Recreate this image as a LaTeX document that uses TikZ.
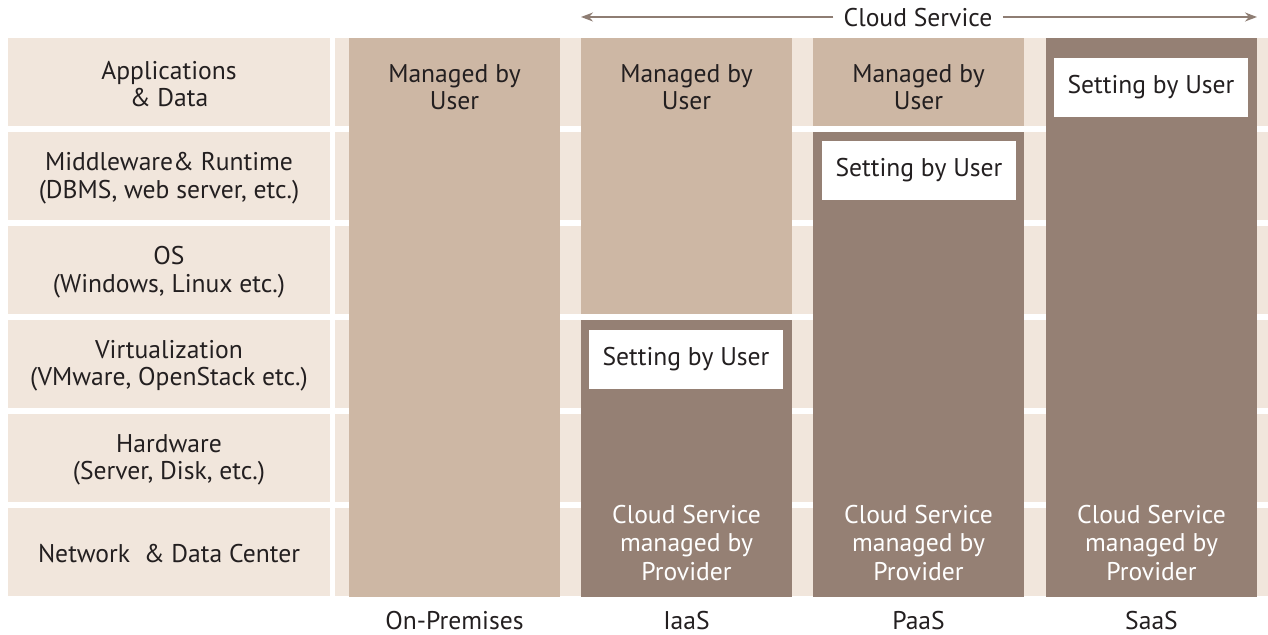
\documentclass[tikz,border=0pt]{standalone}
\usepackage{fontspec}
\setmainfont{PT Sans}
\usetikzlibrary{positioning,arrows.meta}
\definecolor{layerbg}{HTML}{F1E6DC}
\definecolor{usertan}{HTML}{CDB7A4}
\definecolor{provbrown}{HTML}{958074}
\definecolor{inkgray}{HTML}{231F20}
\definecolor{arrowgray}{HTML}{8E7D73}
\begin{document}
\begin{tikzpicture}[x=0.5pt,y=-0.5pt,>={Stealth[length=6pt,width=4.5pt]},
    font=\fontsize{12.8}{13.75}\selectfont,
    layertxt/.style={align=center,text=inkgray,inner sep=0pt},
    usertxt/.style={align=center,text=inkgray,inner sep=0pt},
    provtxt/.style={align=center,text=white,inner sep=0pt,font=\fontsize{12.8}{14.25}\selectfont},
    setbox/.style={fill=white,text=inkgray,inner sep=0pt,minimum width=97pt,minimum height=29.5pt},
    coltxt/.style={text=inkgray,inner sep=0pt}]
    \useasboundingbox (0,0) rectangle (1268,635);
    % layer rows
    \foreach \name/\txt [count=\i from 0] in {apps/{Applications\\\& Data},
        mid/{Middleware\& Runtime\\(DBMS, web server, etc.)},
        os/{OS\\(Windows, Linux etc.)},
        virt/{Virtualization\\(VMware, OpenStack etc.)},
        hw/{Hardware\\(Server, Disk, etc.)},
        net/{Network\ \ \& Data Center}} {
        \fill[layerbg] (8,38+94*\i) rectangle (330,126+94*\i);
        \fill[layerbg] (335,38+94*\i) rectangle (1268,126+94*\i);
        \node[layertxt] (\name) at (169,84+94*\i) {\txt};
    }
    % On-Premises
    \fill[usertan] (349,38) rectangle (560,597);
    \node[usertxt] (onpUser) at (454.5,87) {Managed by\\User};
    % IaaS
    \fill[usertan] (581,38) rectangle (792,314);
    \fill[provbrown] (581,320) rectangle (792,597);
    \node[usertxt] (iaasUser) at (686.5,87) {Managed by\\User};
    \node[setbox] (iaasSet) at (686,359.5) {Setting by User};
    \node[provtxt] (iaasProv) at (686.5,543) {Cloud Service\\managed by\\Provider};
    % PaaS
    \fill[usertan] (813,38) rectangle (1024,126);
    \fill[provbrown] (813,132) rectangle (1024,597);
    \node[usertxt] (paasUser) at (918.5,87) {Managed by\\User};
    \node[setbox] (paasSet) at (919,170.5) {Setting by User};
    \node[provtxt] (paasProv) at (918.5,543) {Cloud Service\\managed by\\Provider};
    % SaaS
    \fill[provbrown] (1046,38) rectangle (1257,597);
    \node[setbox] (saasSet) at (1151,87.5) {Setting by User};
    \node[provtxt] (saasProv) at (1151.5,543) {Cloud Service\\managed by\\Provider};
    % column names
    \node[coltxt] (onp) at (454.5,621) {On-Premises};
    \node[coltxt] (iaas) at (686.5,621) {IaaS};
    \node[coltxt] (paas) at (918.5,621) {PaaS};
    \node[coltxt] (saas) at (1151.5,621) {SaaS};
    % cloud service span
    \coordinate (csL) at (581,17);
    \coordinate (csR) at (1257,17);
    \node[text=inkgray,inner sep=0pt] (cloud) at (918,18) {Cloud Service};
    \draw[->,arrowgray,line width=0.8pt] ([xshift=-5pt]cloud.west |- csL) -- (csL);
    \draw[->,arrowgray,line width=0.8pt] ([xshift=5pt]cloud.east |- csR) -- (csR);
\end{tikzpicture}
\end{document}
